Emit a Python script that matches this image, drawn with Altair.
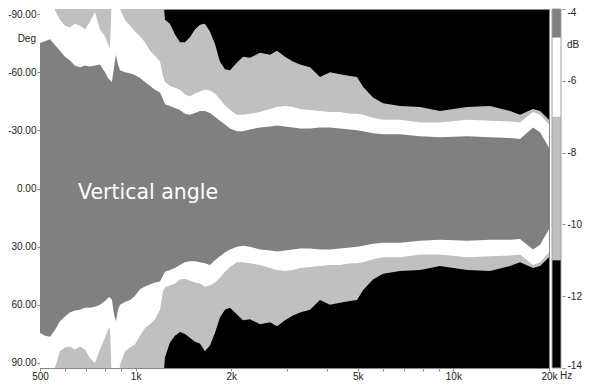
import altair as alt
import pandas as pd

# Frequency grid (Hz)
freq = [500, 518, 538, 557, 578, 599, 621, 644, 668, 693, 718, 745, 772, 801, 818, 830, 842, 855, 867, 880,
        893, 926, 960, 995, 1032, 1070, 1109, 1150, 1193, 1219, 1237, 1282, 1330, 1379, 1430, 1482, 1537, 1594,
        1652, 1713, 1777, 1842, 1910, 1981, 2085, 2178, 2291, 2463, 2648, 2786, 2952, 3128, 3291, 3538, 3804,
        4090, 4398, 4728, 4975, 5196, 5586, 6006, 6795, 7855, 9080, 11042, 13047, 15079, 16210, 17815, 18745, 20000]

# Contour boundaries (degrees); upper half (negative angles) and lower half
top_dark = [-75, -76, -77, -74, -71, -68, -66, -63.5, -62.5, -63.5,
            -63, -63.5, -64, -60, -57, -56, -55, -62.5, -69, -64,
            -61, -60, -59.5, -58.5, -57, -55, -53, -51, -49.5, -46,
            -43.5, -42.5, -41.5, -40.5, -38.5, -38, -39, -40, -40, -39,
            -37, -35, -33, -31, -29.5, -29.5, -30.5, -31.5, -32, -32.5,
            -32, -31.5, -31, -31, -31.5, -31.5, -31, -30.5, -30, -29.5,
            -28.5, -28, -28, -27, -26.5, -27, -26.5, -26, -25.5, -31.5,
            -29, -21]
top_white = [-100, -100, -100, -92, -87, -84, -83, -85, -84, -82,
             -86, -91, -82, -78.5, -74.5, -72, -100, -100, -100, -100,
             -92.5, -87, -84, -81, -78.5, -75.5, -71, -68.5, -65.5, -58,
             -55, -53, -52, -51, -48.5, -47.5, -49, -50, -51, -50.5,
             -49, -46, -43, -40.5, -38, -38, -38.5, -39.5, -41, -42,
             -42.5, -42, -41, -40.5, -40, -39.5, -39.5, -38.5, -38.5, -38,
             -36.5, -35.5, -35.5, -34, -34, -35.5, -35, -34.5, -34, -39.5,
             -38, -33]
top_light = [-100] * 30 + [
    -87, -85, -79.5, -75.5, -75.5, -78, -82, -84.5, -85, -81,
    -74.5, -65.5, -61.5, -61, -65, -68, -67.5, -70, -69, -71,
    -68, -65.5, -64, -62.5, -57.5, -60, -59, -58, -57.5, -52.5,
    -47, -44, -42.5, -42, -40, -42, -42.5, -40, -38, -41,
    -40, -35.5]
bot_dark = [74.5, 76, 76.5, 73, 68.5, 66, 64, 63, 62.5, 61.5,
            61.5, 61, 60, 58, 56.5, 56, 57.5, 65, 68.5, 62.5,
            60, 58.5, 57.5, 55.5, 52, 50.5, 49.5, 48.5, 48, 45,
            43, 42, 41, 39.5, 38, 37.5, 37.5, 38, 38.5, 39.5,
            37, 35, 33, 31.5, 30, 29.5, 30, 31.5, 32, 32.5,
            32, 31.5, 31, 31, 31.5, 31.5, 31, 30.5, 30, 29.5,
            28.5, 28, 28, 27, 26.5, 27, 26.5, 26.5, 26, 31.5,
            29, 21]
bot_white = [100, 100, 100, 92.5, 84, 82, 81.5, 83, 81.5, 83,
             87.5, 90, 83, 77, 73, 71.5, 100, 100, 100, 100,
             91, 84, 82, 80.5, 76, 72, 70, 67.5, 62.5, 53,
             51, 50, 49, 47, 46.5, 47.5, 48.5, 49, 50.5, 50,
             48.5, 46, 43, 40.5, 38, 38, 38.5, 39.5, 41, 42,
             42.5, 42, 41, 40.5, 40, 39.5, 39.5, 38.5, 38.5, 38,
             36.5, 35.5, 35.5, 34, 34, 35.5, 35, 34.5, 34, 39.5,
             38, 33]
bot_light = [100] * 30 + [
    87, 79.5, 76, 74, 75, 77, 79, 80, 84, 81,
    74.5, 66.5, 62.5, 61.5, 65, 68, 67.5, 70, 69, 71,
    68, 65.5, 64, 62.5, 57.5, 60, 59, 58, 57.5, 52.5,
    47, 44, 42.5, 42, 40, 42, 42.5, 40, 38, 41,
    40, 35.5]

# Axis ticks / labels
x_ticks = [500, 600, 700, 800, 900, 1000, 2000, 3000, 4000, 5000, 6000, 7000, 8000, 9000, 10000, 20000]
x_label_values = [500, 1000, 2000, 5000, 10000, 20000]
x_label_texts = ["500", "1k", "2k", "5k", "10k", "20k"]
y_ticks = [-90, -60, -30, 0, 30, 60, 90]
y_label_texts = ["-90.00", "-60.00", "-30.00", "0.00", "30.00", "60.00", "90.00"]

# Colour scale (dB)
cbar_hi = [-4, -4.8, -7, -11]
cbar_lo = [-4.8, -7, -11, -14]
cbar_colors = ["#808080", "#ffffff", "#c0c0c0", "#000000"]
cbar_ticks = [-4, -6, -8, -10, -12, -14]
cbar_label_texts = ["-4", "-6", "-8", "-10", "-12", "-14"]


def label_expr(values, texts):
    expr = "''"
    for v, t in reversed(list(zip(values, texts))):
        expr = f"datum.value == {v} ? '{t}' : ({expr})"
    return expr


FONT = "Liberation Sans"
W, H = 509, 359

df = pd.DataFrame({
    "freq": freq,
    "t_dark": top_dark, "b_dark": bot_dark,
    "t_white": top_white, "b_white": bot_white,
    "t_light": top_light, "b_light": bot_light,
})

x_enc = alt.X("freq:Q", title=None,
              scale=alt.Scale(type="log", domain=[500, 20000], nice=False),
              axis=alt.Axis(values=x_ticks, labelExpr=label_expr(x_label_values, x_label_texts),
                            tickSize=3, labelPadding=0, labelFlush=False, labelOverlap=False,
                            labelBound=False, grid=False))
y_scale = alt.Scale(domain=[-92.6, 92.6], reverse=True, nice=False, zero=False)
y_axis = alt.Axis(values=y_ticks, labelExpr=label_expr(y_ticks, y_label_texts), tickSize=3,
                  labelPadding=1, grid=False, labelFlush=False, labelOverlap=False)

base = alt.Chart(df)


def band(top, bot, color):
    return base.mark_area(color=color, clip=True, interpolate="linear").encode(
        x=x_enc,
        y=alt.Y(f"{top}:Q", scale=y_scale, axis=y_axis, title=None),
        y2=f"{bot}:Q",
    )


light = band("t_light", "b_light", "#c0c0c0")
white = band("t_white", "b_white", "#ffffff")
dark = band("t_dark", "b_dark", "#808080")

title_txt = alt.Chart(pd.DataFrame({"t": ["Vertical angle"]})).mark_text(
    align="left", baseline="alphabetic", font="DejaVu Sans", fontSize=20.5, color="#ffffff"
).encode(text="t:N", x=alt.value(38), y=alt.value(190))

deg_txt = alt.Chart(pd.DataFrame({"t": ["Deg"]})).mark_text(
    align="right", baseline="middle", font=FONT, fontSize=10, color="#222222"
).encode(text="t:N", x=alt.value(-4), y=alt.value(30))

hz_txt = alt.Chart(pd.DataFrame({"t": ["Hz"]})).mark_text(
    align="left", baseline="top", font=FONT, fontSize=10, color="#222222"
).encode(text="t:N", x=alt.value(520), y=alt.value(H + 3))

main = alt.layer(light, white, dark, title_txt, deg_txt, hz_txt)

cb = pd.DataFrame({"hi": cbar_hi, "lo": cbar_lo, "color": cbar_colors})
cb_scale = alt.Scale(domain=[-14, -4], nice=False, zero=False)
cbar = alt.Chart(cb).mark_rect().encode(
    x=alt.value(512), x2=alt.value(521),
    y=alt.Y("hi:Q", scale=cb_scale, title=None,
            axis=alt.Axis(orient="right", offset=13, values=cbar_ticks,
                          labelExpr=label_expr(cbar_ticks, cbar_label_texts),
                          labelOffset={"condition": [
                              {"test": "datum.value == -4", "value": 3},
                              {"test": "datum.value == -14", "value": -3},
                          ], "value": 0},
                          tickSize=3, labelPadding=2, domain=False, grid=False,
                          labelFlush=False, labelOverlap=False)),
    y2="lo:Q",
    color=alt.Color("color:N", scale=None, legend=None),
)
cb_outline = alt.Chart(pd.DataFrame({"hi": [cbar_hi[0]], "lo": [cbar_lo[-1]]})).mark_rect(
    filled=False, stroke="#a0a0a0", strokeWidth=1
).encode(x=alt.value(512), x2=alt.value(521), y=alt.Y("hi:Q", scale=cb_scale), y2="lo:Q")
db_txt = alt.Chart(pd.DataFrame({"t": ["dB"], "v": [-5]})).mark_text(
    align="left", baseline="middle", font=FONT, fontSize=10, color="#222222"
).encode(text="t:N", x=alt.value(527), y=alt.Y("v:Q", scale=cb_scale))

colorbar = alt.layer(cbar, cb_outline, db_txt)

chart = alt.layer(main, colorbar).resolve_scale(y="independent").properties(
    width=W, height=H,
    autosize=alt.AutoSizeParams(type="none"),
    padding={"left": 32, "top": 1, "right": 37, "bottom": 12},
    background="#ffffff",
).configure_view(
    fill="#000000", stroke="#888888", strokeWidth=1
).configure_axis(
    labelFont=FONT, labelFontSize=10, labelColor="#222222",
    domainColor="#888888", tickColor="#888888",
)

chart.save("out.html", embed_options={"renderer": "svg", "actions": False})
